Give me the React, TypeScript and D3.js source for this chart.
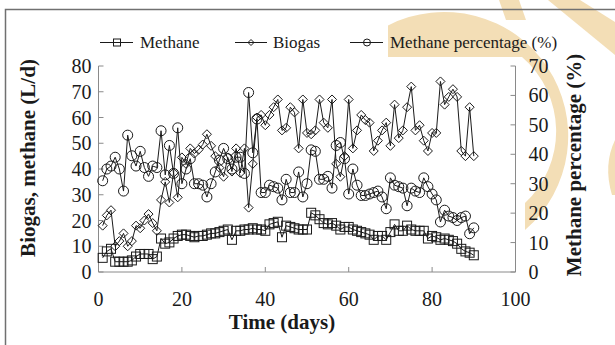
import React from 'react';
import * as d3 from 'd3';

// Daily values, days 1..90
const methane = [
  5.5, 8, 9, 4, 4, 4, 4, 4.5, 6, 7,
  7, 7, 5, 6, 13, 11, 11.5, 13, 14, 14.5,
  14.5, 14, 13.5, 14, 14, 14.5, 15, 15, 15.5, 16,
  16.5, 12.5, 16, 16, 16.5, 16.5, 17, 16.5, 16.5, 16,
  18.5, 19, 19.5, 13.5, 18, 17.5, 17, 16.5, 16.5, 16.5,
  23, 22, 20.5, 19, 18.5, 19, 18, 16.5, 17.5, 17.5,
  16.5, 16, 15.5, 15, 14.5, 12.5, 14, 14, 12.5, 15.5,
  18.5, 16, 16, 18, 16.5, 16, 16, 16, 13, 14,
  13.5, 12.5, 13, 12.5, 12, 11, 9, 8, 7.5, 6.5,
];
const biogas = [
  18, 22, 24, 10, 12, 15, 10, 12, 18, 17,
  20, 22.5, 19, 16, 28, 35, 27, 38.5, 29, 44.5,
  42, 48, 46, 47.5, 49.5, 53.5, 49, 45, 40.5, 37,
  44.5, 39, 48, 38.5, 48, 25, 42, 60, 61, 57,
  61, 64, 67, 55, 56, 64, 62, 48, 67, 54,
  53.5, 55, 67, 58, 56, 67, 42, 37, 45, 67,
  48, 55, 61, 59, 58, 47, 51, 55, 58, 49,
  65, 52, 55, 64, 72, 55, 57, 51, 47, 54,
  54, 74, 65, 68, 71, 68, 47, 45, 64, 45,
];
const methanePct = [
  31, 35, 36, 39, 35, 27.5, 46.5, 39.5, 36, 41,
  35.5, 32.5, 36, 35.5, 48, 33, 43, 33.5, 49, 30,
  35, 38.5, 30, 30, 29.5, 25.5, 30, 34, 38, 42,
  38.5, 35, 39, 39, 33.5, 61, 40.5, 52, 27, 27,
  29.5, 29, 28.5, 24.5, 31.5, 27, 27, 34, 25.5, 30,
  41.5, 41, 31.5, 31.5, 32.5, 28.5, 43, 44, 38.5, 26.5,
  35, 29.5, 26, 26, 26.5, 27, 27.5, 25.5, 21.5, 32,
  29.5, 29, 28.5, 22.5, 28.5, 27.5, 27, 32, 29, 26.5,
  24.5, 17, 21, 19, 18.5, 17.5, 18.5, 19, 13, 15,
];

const xTicks = [0, 20, 40, 60, 80, 100];
const leftTicks = [0, 10, 20, 30, 40, 50, 60, 70, 80];
const rightTicks = [0, 10, 20, 30, 40, 50, 60, 70];
const legendLabels = ['Methane', 'Biogas', 'Methane percentage (%)'];
const xTitle = 'Time (days)';
const leftTitle = 'Biogas, methane (L/d)';
const rightTitle = 'Methane percentage (%)';

const FONT = '"Liberation Serif", "Times New Roman", serif';
const INK = '#1a1a1a';
const AXIS = '#8a8a8a';
const ORANGE = '#f3deb6';

function Square({ cx, cy, s }: { cx: number; cy: number; s: number }) {
  return <rect x={cx - s / 2} y={cy - s / 2} width={s} height={s} fill="none" stroke={INK} strokeWidth={1} />;
}
function Diamond({ cx, cy, r }: { cx: number; cy: number; r: number }) {
  return (
    <path
      d={`M${cx},${cy - r}L${cx + r},${cy}L${cx},${cy + r}L${cx - r},${cy}Z`}
      fill="none"
      stroke={INK}
      strokeWidth={1}
    />
  );
}
function Circle({ cx, cy, r }: { cx: number; cy: number; r: number }) {
  return <circle cx={cx} cy={cy} r={r} fill="none" stroke={INK} strokeWidth={1} />;
}

export default function App() {
  const x = d3.scaleLinear().domain([0, 100]).range([98.5, 515.5]);
  const yL = d3.scaleLinear().domain([0, 80]).range([272, 66]);
  const yR = d3.scaleLinear().domain([0, 70]).range([272, 66]);

  const mkLine = (scale: d3.ScaleLinear<number, number>) =>
    d3
      .line<number>()
      .x((_, i) => x(i + 1))
      .y((d) => scale(d));

  const left = x.range()[0];
  const right = x.range()[1];
  const bottom = yL.range()[0];
  const top = yL.range()[1];

  return (
    <svg
      width={615}
      height={345}
      style={{ position: 'fixed', left: 0, top: 0, background: '#fff' }}
      fontFamily={FONT}
    >
      <rect x={0} y={0} width={615} height={345} fill="#fff" />
      {/* decorative watermark */}
      <g fill={ORANGE}>
        <path d="M388,57 L388,25.4 A124,124 0 0 1 525,230 L525,203 A98,98 0 0 0 522,57 Z" />
        <path d="M499,0 L519,0 L526,20 L506,20 Z" />
        <path d="M548,0 L580,0 L615,22 L615,55 Z" />
        <path d="M615,140 Q603,165 612,195 L615,195 Z" />
      </g>
      {/* outer frame */}
      <path d="M5.5,345 L5.5,9.5 L615,9.5" fill="none" stroke="#707070" strokeWidth={1.5} />

      {/* axes */}
      <g stroke={AXIS} strokeWidth={1} fill="none">
        <path d={`M${left},${top}L${left},${bottom}L${right},${bottom}L${right},${top}`} />
        {leftTicks.map((t) => (
          <line key={'lt' + t} x1={left} x2={left + 5} y1={yL(t)} y2={yL(t)} />
        ))}
        {rightTicks.map((t) => (
          <line key={'rt' + t} x1={right - 5} x2={right} y1={yR(t)} y2={yR(t)} />
        ))}
        {xTicks.map((t) => (
          <line key={'xt' + t} x1={x(t)} x2={x(t)} y1={bottom} y2={bottom - 5} />
        ))}
      </g>

      {/* tick labels */}
      <g fill={INK} fontSize={20}>
        {leftTicks.map((t) => (
          <text key={'ll' + t} x={left - 7} y={yL(t) + 7} textAnchor="end">
            {t}
          </text>
        ))}
        {rightTicks.map((t) => (
          <text key={'rl' + t} x={right + 13} y={yR(t) + 7} textAnchor="start">
            {t}
          </text>
        ))}
        {xTicks.map((t) => (
          <text key={'xl' + t} x={x(t)} y={306} textAnchor="middle">
            {t}
          </text>
        ))}
      </g>

      {/* axis titles */}
      <g fill={INK} fontSize={21} fontWeight="bold">
        <text x={282} y={329} textAnchor="middle">
          {xTitle}
        </text>
        <text transform="translate(35,158) rotate(-90)" textAnchor="middle">
          {leftTitle}
        </text>
        <text transform="translate(581,165) rotate(-90)" textAnchor="middle">
          {rightTitle}
        </text>
      </g>

      {/* series lines */}
      <g fill="none" stroke={INK} strokeWidth={1}>
        <path d={mkLine(yL)(methane) || ''} />
        <path d={mkLine(yL)(biogas) || ''} />
        <path d={mkLine(yR)(methanePct) || ''} />
      </g>
      {/* markers */}
      <g>
        {methane.map((v, i) => (
          <Square key={'m' + i} cx={x(i + 1)} cy={yL(v)} s={9} />
        ))}
        {biogas.map((v, i) => (
          <Diamond key={'b' + i} cx={x(i + 1)} cy={yL(v)} r={4.5} />
        ))}
        {methanePct.map((v, i) => (
          <Circle key={'p' + i} cx={x(i + 1)} cy={yR(v)} r={5} />
        ))}
      </g>

      {/* legend */}
      <g fontSize={17} fill={INK}>
        <line x1={100} x2={133} y1={42.5} y2={42.5} stroke={INK} strokeWidth={1} />
        <Square cx={117} cy={42.5} s={7} />
        <text x={140} y={47.5}>{legendLabels[0]}</text>

        <line x1={235} x2={267} y1={42.5} y2={42.5} stroke={INK} strokeWidth={1} />
        <Diamond cx={251} cy={42.5} r={3} />
        <text x={273} y={47.5}>{legendLabels[1]}</text>

        <line x1={350} x2={383} y1={42.5} y2={42.5} stroke={INK} strokeWidth={1} />
        <Circle cx={367} cy={42.5} r={3.5} />
        <text x={390} y={47.5}>{legendLabels[2]}</text>
      </g>
    </svg>
  );
}
